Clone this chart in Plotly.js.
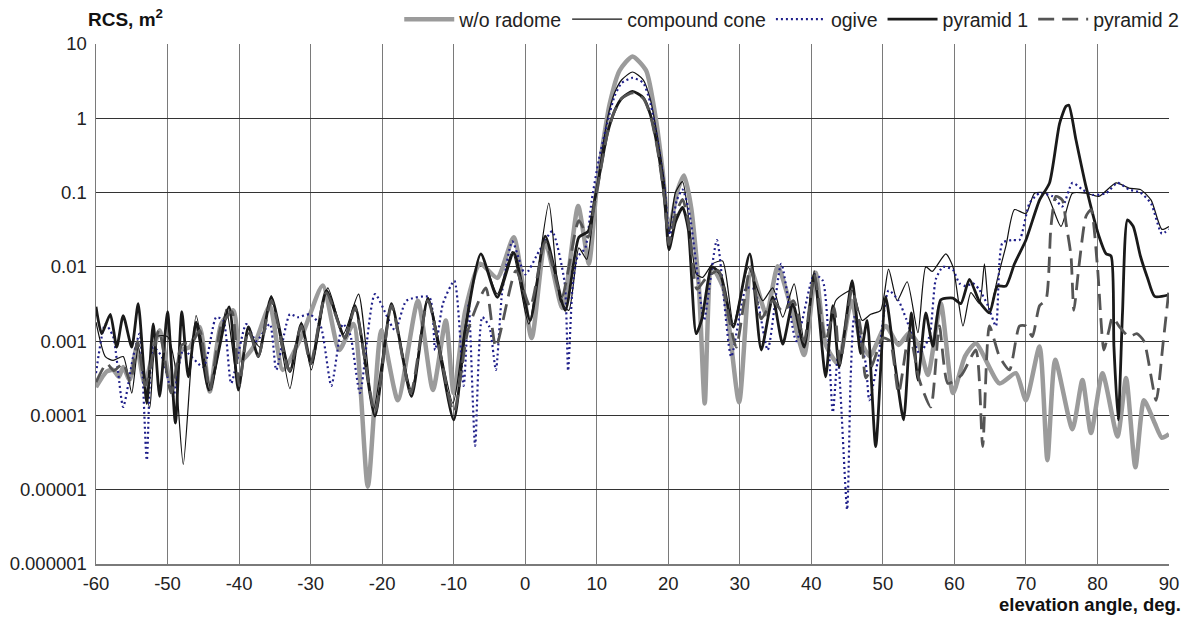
<!DOCTYPE html>
<html>
<head>
<meta charset="utf-8">
<script src="https://cdn.plot.ly/plotly-3.0.1.min.js"></script>
<style>html,body{margin:0;padding:0;background:#fff;}#chart{width:1189px;height:619px;}</style>
</head>
<body>
<div id="chart"></div>
<script>
// ---- data (elevation angle, deg ; RCS, m^2) ----
const seriesNames = ['w/o radome', 'compound cone', 'ogive', 'pyramid 1', 'pyramid 2'];

const xNoRadome = [-60,-58.5,-57.6,-56.8,-56.2,-55.3,-54.3,-53.2,-51.1,-49.4,-48,-46.9,-45.5,-44.1,-42.5,-40.8,-39.7,-38,-35.7,-33.9,-31.1,-28.3,-26,-24,-22,-20.1,-17.8,-15,-12.9,-11.1,-10,-8.4,-6.3,-3.9,-1.6,0.9,2.8,5.2,7.4,8.9,9.9,10.8,11.8,13.2,15,16.9,18.3,19.2,20.1,21.3,22.2,23.2,24.3,25.1,26.1,27.7,29.9,31.6,33.7,35.3,36.9,39,40.6,42,43.7,45.6,46.9,48.2,50.4,52.2,53.7,55.1,56.3,58.1,59.8,61.5,63,66.3,68.6,70,71.9,73,74.1,76.5,77.9,79.1,80.7,82.8,84,85.3,86.5,88,89,90];
const yNoRadome = [2.4e-4,3.9e-4,4.1e-4,3.3e-4,4.5e-4,3.0e-4,8.3e-4,2.7e-4,1.4e-3,2.2e-4,7.6e-4,8.3e-4,1.55e-3,2.1e-4,1.7e-3,2.6e-3,5.5e-4,8.3e-4,3.0e-3,4.1e-4,1.26e-3,5.6e-3,7.6e-4,1.7e-3,1.1e-5,1.4e-3,1.6e-4,3.5e-3,2.2e-4,1.9e-3,2.0e-4,2.5e-3,1.1e-2,7.1e-3,2.5e-2,1.1e-3,2.2e-2,2.8e-3,6.6e-2,1.1e-2,9.5e-2,0.41,1.55,4.4,6.8,4.4,0.93,0.2,0.032,0.107,0.17,0.063,5.0e-3,1.45e-4,9.8e-3,5.2e-3,1.5e-4,8.9e-3,2.3e-3,1.02e-2,3.5e-3,6.5e-4,8.3e-3,9.1e-4,5.0e-4,3.5e-3,1.0e-3,6.3e-4,1.6e-3,8.9e-4,1.3e-3,8.5e-4,3.5e-4,3.2e-3,2.0e-4,6.3e-4,9.3e-4,2.7e-4,3.7e-4,1.6e-4,8.5e-4,2.5e-5,5.6e-4,6.5e-5,3.0e-4,5.8e-5,3.7e-4,5.2e-5,3.2e-4,2.0e-5,1.6e-4,7.9e-5,5.0e-5,5.6e-5];

const xCompound = [-60,-58.7,-57.6,-56.2,-55,-54.1,-52.5,-51.5,-50,-49,-47.8,-46,-43.9,-41.8,-40.1,-38.7,-37.1,-35.5,-32.9,-31.3,-29.9,-27.6,-25.4,-23.3,-21.2,-18.7,-15.9,-13.6,-10.1,-8.5,-6.2,-3.9,-1.8,0.5,3.3,4.9,6.1,7.5,8.6,9.5,10.5,11.5,12.5,13.5,15,16.5,17.5,18.5,19.5,20.1,21,22,22.9,23.9,24.8,26.2,27.6,29.1,31.2,33.2,34.6,36,37.6,39,40.4,42,43.4,45.7,47.1,48.3,49.7,50.8,52,53.4,54.9,56,56.9,58.8,59.8,61.2,62.3,63.5,64.2,64.9,66,67.2,68.4,70,71.2,72.8,74.9,76.5,78.4,80.2,82.6,84.4,86,87.5,89,90];
const yCompound = [1.8e-3,6.2e-4,5.5e-4,6.2e-4,2.0e-4,8.3e-4,1.26e-4,1.15e-3,1.15e-3,5.0e-4,2.2e-5,2.2e-3,2.2e-4,2.7e-3,2.5e-4,1.26e-3,8.3e-4,4.1e-3,2.3e-4,1.8e-3,4.1e-4,5.2e-3,1.26e-3,4.3e-3,1.2e-4,3.0e-3,2.2e-4,3.9e-3,1.45e-4,1.4e-3,1.5e-2,4.3e-3,1.6e-2,1.7e-3,7.2e-2,3.5e-3,2.6e-3,1.8e-2,1.26e-2,5.0e-2,0.25,1.0,2.2,3.3,4.2,3.3,1.8,0.56,0.126,0.028,0.1,0.14,0.042,8.1e-3,7.2e-3,1.1e-2,1.2e-2,1.7e-3,9.8e-3,3.5e-3,5.2e-3,2.1e-3,5.9e-3,1.0e-3,8.9e-3,3.6e-4,3.5e-3,4.8e-3,1.9e-3,2.3e-3,2.6e-3,9.3e-3,3.5e-3,6.3e-3,1.3e-3,1.0e-2,8.7e-3,1.5e-2,1.0e-2,1.6e-3,4.5e-3,3.2e-3,1.1e-2,2.4e-3,6.8e-3,1.9e-2,5.9e-2,5.2e-2,9.8e-2,9.8e-2,3.5e-2,9.8e-2,9.8e-2,8.9e-2,0.135,0.115,0.11,7.9e-2,3.2e-2,3.5e-2];

const xOgive = [-60,-58.7,-57.6,-56.2,-54.8,-53.9,-52.9,-52,-50.8,-49.2,-47.8,-45,-43.2,-42.2,-41.1,-39,-37.6,-35.7,-34.8,-32.9,-31.8,-30.1,-28.6,-27.1,-25.5,-24.5,-23.1,-21,-18.2,-16.6,-13.4,-12.6,-11.5,-9.9,-8.6,-7.9,-7,-6,-5,-4.1,-3.2,-1.8,0,1.9,3.75,5.5,6,6.6,7.3,8.4,9.3,10.3,11.5,12.5,13.5,15,16.5,17.5,18.5,19.5,20.2,21.2,22,23,24.2,25,26.8,28.8,30.9,32,33.9,35.8,37.9,40.4,41.6,43,43.7,45,45.5,46,47.6,48.1,49.4,50.8,52.2,53.3,55.1,56.5,57.4,58.4,59.8,60.7,61.6,62.6,63.5,64.7,65.8,66.7,68.1,69.1,70.5,71.9,73.7,75.1,76.5,77.9,79.3,81.2,82.8,84.4,86,87.5,89,90];
const yOgive = [3.7e-4,1.7e-3,1.15e-3,1.3e-4,6.2e-4,1.26e-3,2.5e-5,8.3e-4,6.2e-4,1.8e-4,7.6e-4,4.5e-4,2.1e-3,1.9e-3,2.7e-4,1.7e-3,1.0e-3,1.7e-3,4.1e-4,2.3e-3,2.1e-3,2.3e-3,1.6e-3,2.5e-4,1.7e-3,1.26e-3,2.0e-4,4.3e-3,1.4e-3,3.5e-3,3.9e-3,7.6e-4,3.2e-3,6.5e-3,2.5e-4,3.2e-3,3.9e-5,2.1e-3,1.55e-3,4.1e-4,4.8e-3,2.2e-2,7.9e-3,1.6e-2,3.0e-2,6.3e-3,4.0e-4,5.0e-3,1.35e-2,1.8e-2,7.9e-2,0.28,0.89,2.0,3.0,3.5,3.0,1.6,0.5,0.11,0.025,0.079,0.11,0.05,6.3e-3,1.9e-3,2.3e-2,6.2e-4,5.2e-3,5.0e-3,7.6e-4,1.1e-2,1.0e-3,7.9e-3,6.5e-3,1.1e-4,6.2e-4,5.4e-6,3.3e-4,2.1e-3,5.0e-4,1.6e-4,6.2e-4,4.8e-3,3.5e-3,1.95e-3,6.9e-4,1.15e-3,6.8e-3,1.0e-2,9.1e-3,6.0e-3,5.5e-3,6.0e-3,4.9e-3,3.0e-3,1.6e-3,2.1e-2,2.3e-2,2.3e-2,7.2e-2,9.8e-2,8.9e-2,6.5e-2,0.135,0.11,9.3e-2,9.8e-2,0.135,0.11,0.1,7.1e-2,2.8e-2,3.2e-2];

const xPyramid1 = [-60,-59.2,-58,-57.1,-56.2,-55,-54.1,-52.9,-52,-51.1,-50,-48.9,-48,-47.1,-46,-44.2,-41.4,-40.1,-38.7,-37.3,-35.5,-32.9,-31.3,-29.9,-27.8,-25.2,-23.8,-21,-18.7,-15.9,-13.6,-10,-8.3,-6.2,-3.9,-1.6,0.7,2.8,5.6,7.5,8.8,9.7,10.5,11.5,12.5,13.5,15,16.5,17.5,18.5,19.5,20.1,21,22,22.8,23.9,24.7,26.1,27.3,29.1,31.4,33,34.6,36,37.4,39,40.4,42,43,43.9,45.7,46.9,47.8,49,50.4,51.8,52.9,54,54.9,56,57,58.1,59.8,60.9,62.1,63.5,64.9,66,67.2,68.4,70,71.9,73.3,74.7,75.6,76,77,78.4,80.2,81.2,81.9,82.3,82.9,83.5,84.2,85,86,87,88,90];
const yPyramid1 = [2.9e-3,1.26e-3,2.3e-3,8.3e-4,2.2e-3,8.3e-4,3.2e-3,1.45e-4,1.7e-3,1.8e-4,2.5e-3,7.9e-5,2.5e-3,3.3e-4,1.8e-3,2.2e-4,2.9e-3,2.2e-4,1.55e-3,6.2e-4,3.9e-3,3.9e-4,1.7e-3,5.0e-4,4.8e-3,1.1e-3,3.0e-3,9.8e-5,3.2e-3,1.8e-4,3.7e-3,8.7e-5,1.6e-3,1.5e-2,3.9e-3,1.55e-2,1.9e-3,2.6e-2,2.6e-3,2.5e-2,3.0e-2,7.9e-2,0.2,0.63,1.26,1.86,2.3,1.9,1.12,0.4,0.079,0.017,0.04,0.063,0.032,1.26e-3,2.0e-3,1.0e-2,7.9e-3,1.55e-3,1.5e-2,7.6e-4,3.9e-3,9.1e-4,3.2e-3,8.3e-4,7.9e-3,3.3e-4,3.0e-3,4.5e-4,6.5e-3,6.8e-4,1.9e-3,3.8e-5,3.9e-3,4.1e-4,8.7e-5,2.4e-3,3.0e-4,2.4e-3,8.5e-4,3.6e-3,3.8e-3,3.2e-3,6.8e-3,3.4e-3,2.4e-3,5.5e-3,5.5e-3,1.1e-2,2.3e-2,7.9e-2,0.135,0.85,1.45,1.5,0.51,0.12,2.6e-2,1.5e-2,1.4e-2,8.5e-4,8.7e-5,2.4e-3,4.3e-2,3.5e-2,1.4e-2,7.1e-3,4.0e-3,4.2e-3];

const xPyramid2 = [-60,-58.5,-57.5,-56.2,-55.2,-54.2,-53.1,-51.2,-49.5,-48,-46.5,-45.5,-44.1,-42.5,-41,-40,-38.7,-37.3,-35.5,-33,-31.3,-30,-27.8,-25.2,-23.8,-21,-18.7,-16,-13.6,-10,-8,-5.5,-4.1,-1.3,0.7,2.8,5.1,7.5,8.8,9.7,10.5,11.5,12.5,13.5,15,16.5,17.5,18.5,19.5,20.1,21,22,22.9,24,25.3,27,28.5,29.5,31.5,33,34.6,36,37.5,39,40.4,42,43.2,44,45.7,47,47.6,48.6,50,51,52.2,53.7,55.1,56.7,57.9,59.1,61,63,63.95,64.9,66.3,67.7,69.1,70,70.9,71.9,72.8,73.5,74.2,75.1,75.6,76.3,76.7,77.4,78.4,79.1,80,80.9,81.6,82.1,83,84.4,85.5,86.5,88.2,89.2,90];
const yPyramid2 = [2.8e-4,5.0e-4,4.0e-4,5.0e-4,2.8e-4,1.0e-3,2.5e-4,1.4e-3,2.0e-4,8.9e-4,1.0e-3,1.4e-3,2.2e-4,1.6e-3,2.5e-3,2.5e-4,1.4e-3,6.3e-4,3.5e-3,4.0e-4,1.6e-3,5.0e-4,4.5e-3,1.1e-3,2.8e-3,1.1e-4,3.0e-3,2.0e-4,3.5e-3,1.1e-4,1.4e-3,5.2e-3,8.3e-4,8.9e-3,2.9e-3,2.2e-2,3.9e-3,4.2e-2,2.5e-2,7.1e-2,0.19,0.63,1.26,1.86,2.2,1.86,1.1,0.38,0.079,0.02,0.05,0.081,0.035,5.0e-3,7.1e-3,8.9e-3,2.0e-3,8.3e-4,1.0e-2,2.0e-3,3.5e-3,2.5e-3,3.5e-3,1.0e-3,7.9e-3,1.0e-3,2.8e-3,5.0e-4,5.0e-3,1.26e-3,3.2e-4,5.0e-4,1.1e-3,1.0e-3,2.0e-4,1.3e-3,3.0e-4,1.3e-4,1.6e-3,2.7e-4,3.5e-4,7.6e-4,3.8e-5,1.6e-3,6.2e-4,4.1e-4,1.6e-3,1.6e-3,1.15e-3,3.0e-3,3.6e-3,3.5e-2,8.9e-2,7.9e-2,3.9e-2,1.4e-2,2.6e-3,1.0e-2,4.8e-2,5.9e-2,1.0e-2,7.6e-4,1.4e-3,2.1e-3,1.6e-3,1.15e-3,1.26e-3,1.0e-3,1.6e-4,1.0e-3,5.0e-3];

const xTickVals = [-60,-50,-40,-30,-20,-10,0,10,20,30,40,50,60,70,80,90];
const yTickVals = [1e-6,1e-5,1e-4,1e-3,1e-2,1e-1,1,10];
const yTickText = ['0.000001','0.00001','0.0001','0.001','0.01','0.1','1','10'];

const xTitle = 'elevation angle, deg.';
const yTitle = 'RCS, m<sup>2</sup>';

// ---- styles ----
const FONT = 'Liberation Sans, Arial, Helvetica, sans-serif';
const styles = [
  {color:'#9b9b9b', width:4.5, dash:'solid'},
  {color:'#111111', width:1.2, dash:'solid'},
  {color:'#1f1f8a', width:2.2, dash:'2px,3px'},
  {color:'#1a1a1a', width:2.8, dash:'solid'},
  {color:'#555555', width:2.8, dash:'16px,8px'}
];
const xs = [xNoRadome, xCompound, xOgive, xPyramid1, xPyramid2];
const ys = [yNoRadome, yCompound, yOgive, yPyramid1, yPyramid2];

const traces = seriesNames.map((name, i) => ({
  type:'scatter', mode:'lines', name:name,
  x: xs[i], y: ys[i],
  line:{color:styles[i].color, width:styles[i].width, dash:styles[i].dash, shape:'spline', smoothing:0.6},
  hoverinfo:'x+y+name'
}));

const layout = {
  width:1189, height:619,
  margin:{l:96, r:20, t:44, b:55},
  paper_bgcolor:'#ffffff', plot_bgcolor:'#ffffff',
  font:{family:FONT, size:18, color:'#222'},
  showlegend:true,
  legend:{orientation:'h', xref:'container', yref:'container', x:0.996, xanchor:'right', y:1.0, yanchor:'top',
          font:{family:FONT, size:19.5, color:'#222'}, bgcolor:'rgba(0,0,0,0)', tracegroupgap:0, itemwidth:50},
  xaxis:{range:[-60,90], tickmode:'array', tickvals:xTickVals, ticktext:xTickVals.map(String),
         showgrid:true, gridcolor:'#7a7a7a', gridwidth:1, zeroline:false,
         showline:true, linecolor:'#7a7a7a', linewidth:1.5, ticks:'', ticklabelstandoff:2,
         tickfont:{family:FONT, size:18.5, color:'#222'}},
  yaxis:{type:'log', range:[-6,1], tickmode:'array', tickvals:yTickVals, ticktext:yTickText,
         showgrid:true, gridcolor:'#333333', gridwidth:1, zeroline:false,
         showline:true, linecolor:'#7a7a7a', linewidth:1.5, ticks:'', ticklabelstandoff:4,
         tickfont:{family:FONT, size:18.5, color:'#222'}},
  annotations:[
    {text:'<b>'+yTitle+'</b>', xref:'paper', yref:'paper', x:-0.009, y:1.05, xanchor:'left', yanchor:'middle',
     showarrow:false, font:{family:FONT, size:19, color:'#111'}},
    {text:'<b>'+xTitle+'</b>', xref:'paper', yref:'paper', x:1.013, y:-0.077, xanchor:'right', yanchor:'middle',
     showarrow:false, font:{family:FONT, size:18.5, color:'#111'}}
  ]
};

Plotly.newPlot('chart', traces, layout, {displayModeBar:false, staticPlot:true});
</script>
</body>
</html>
